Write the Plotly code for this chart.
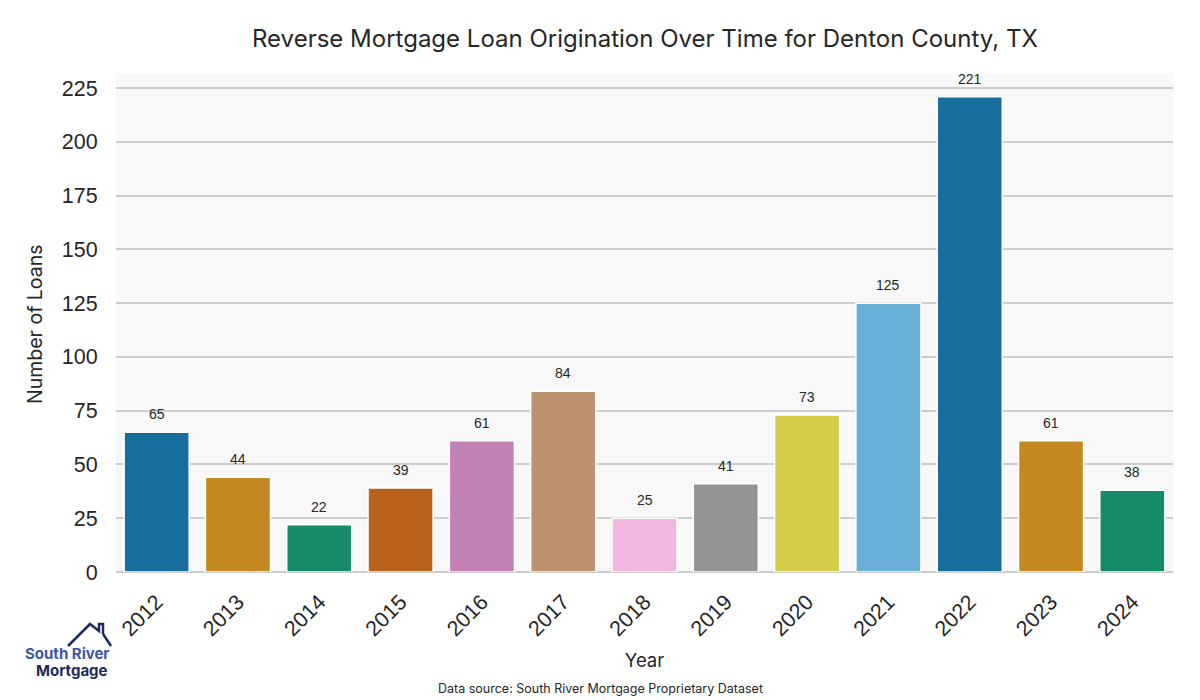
import colorsys
import plotly.graph_objects as go

years = ["2012", "2013", "2014", "2015", "2016", "2017", "2018", "2019",
         "2020", "2021", "2022", "2023", "2024"]
loans = [65, 44, 22, 39, 61, 84, 25, 41, 73, 125, 221, 61, 38]
y_ticks = [0, 25, 50, 75, 100, 125, 150, 175, 200, 225]

palette = ["#0173B2", "#DE8F05", "#029E73", "#D55E00", "#CC78BC",
           "#CA9161", "#FBAFE4", "#949494", "#ECE133", "#56B4E9"]


def desat(hexc, prop=0.75):
    r, g, b = (int(hexc[i:i + 2], 16) / 255 for i in (1, 3, 5))
    h, l, s = colorsys.rgb_to_hls(r, g, b)
    r, g, b = colorsys.hls_to_rgb(h, l, s * prop)
    return "#%02x%02x%02x" % (round(r * 255), round(g * 255), round(b * 255))


colors = [desat(palette[i % len(palette)]) for i in range(len(years))]

W, H = 1200, 700
L, R, T, B = 116, 1173, 73, 572


def px(x):
    return (x - L) / (R - L)


def py(y):
    return (B - y) / (B - T)


fig = go.Figure(go.Bar(
    x=years, y=loans,
    marker=dict(color=colors, line=dict(color="white", width=1.5)),
    width=0.8,
))

# value labels: category serial index on the category axis
for i, v in enumerate(loans):
    fig.add_annotation(
        x=i, y=v, text=str(v), showarrow=False, yshift=18,
        xanchor="center", yanchor="middle",
        font=dict(family="Liberation Sans, Arial", size=14, color="#262626"),
    )

fig.update_layout(
    width=W, height=H,
    margin=dict(l=L, r=W - R, t=T, b=H - B, autoexpand=False),
    paper_bgcolor="white", plot_bgcolor="#f8f8f8",
    showlegend=False,
    bargap=0.2,
    xaxis=dict(
        type="category",
        categoryorder="array", categoryarray=years,
        range=[-0.5, len(years) - 0.5],
        automargin=False,
        tickangle=-45,
        tickfont=dict(family="Liberation Sans, Arial", size=21.5, color="#262626"),
        showgrid=False, showline=False,
        ticks="outside", ticklen=8, tickcolor="rgba(0,0,0,0)",
        title=dict(text="Year", font=dict(family="Inter, Lato", size=18.5, color="#262626"), standoff=14),
    ),
    yaxis=dict(
        automargin=False,
        range=[0, 232],
        tickvals=y_ticks,
        tickfont=dict(family="Liberation Sans, Arial", size=21.5, color="#262626"),
        showgrid=True, gridcolor="#cccccc", gridwidth=1.5,
        zeroline=True, zerolinecolor="#cccccc", zerolinewidth=1.5,
        showline=False,
        ticks="outside", ticklen=13, tickcolor="rgba(0,0,0,0)",
    ),
    font=dict(family="Inter, Lato", color="#262626"),
)

fig.add_annotation(
    text="Number of Loans", textangle=-90,
    xref="paper", yref="paper", x=px(35), y=py(324), xanchor="center", yanchor="middle",
    showarrow=False, font=dict(family="Inter, Lato", size=19.5, color="#262626"),
)
fig.add_annotation(
    text="Reverse Mortgage Loan Origination Over Time for Denton County, TX",
    xref="paper", yref="paper", x=0.5, y=py(39), xanchor="center", yanchor="middle",
    showarrow=False, font=dict(family="Inter, Lato", size=24, color="#262626"),
)
fig.add_annotation(
    text="Data source: South River Mortgage Proprietary Dataset",
    xref="paper", yref="paper", x=px(600), y=py(688), xanchor="center", yanchor="middle",
    showarrow=False, font=dict(family="Inter, Lato", size=12.5, color="#262626"),
)
# logo
fig.add_annotation(
    text="<b>South River</b>", xref="paper", yref="paper", x=px(67), y=py(653),
    xanchor="center", yanchor="middle", showarrow=False,
    font=dict(family="Inter, Lato", size=15, color="#3d55a6"),
)
fig.add_annotation(
    text="<b>Mortgage</b>", xref="paper", yref="paper", x=px(72), y=py(670),
    xanchor="center", yanchor="middle", showarrow=False,
    font=dict(family="Inter, Lato", size=15, color="#1e2a5e"),
)
roof = "M {} {} L {} {} L {} {} L {} {} L {} {} L {} {}".format(
    px(68), py(646), px(90), py(624), px(99), py(631),
    px(99), py(624), px(103), py(624), px(103), py(634))
fig.add_shape(type="path", path=roof, xref="paper", yref="paper",
              line=dict(color="#1e2a5e", width=2.5))
fig.add_shape(type="line", xref="paper", yref="paper",
              x0=px(103), y0=py(634), x1=px(111), y1=py(646),
              line=dict(color="#1e2a5e", width=2.5))

fig.write_html("out.html", config={"displayModeBar": False},
               post_script="document.body.style.margin='0';")
